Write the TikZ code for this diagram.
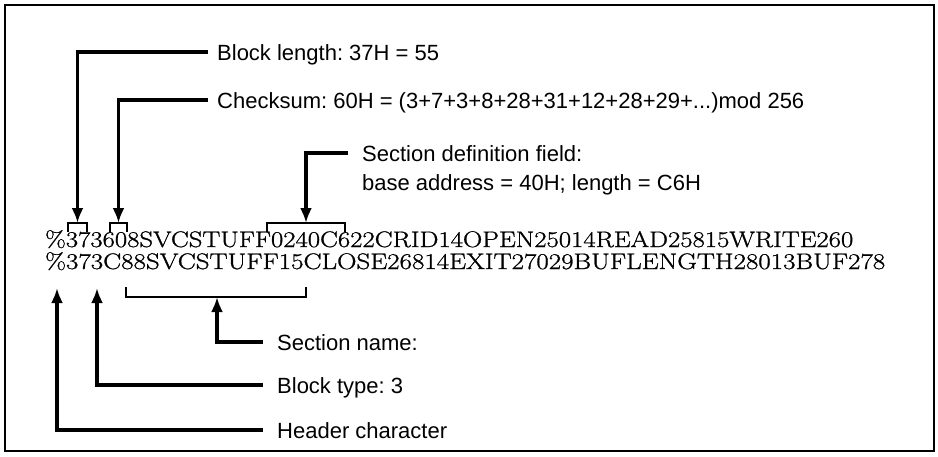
\documentclass[tikz,border=0pt]{standalone}
\usepackage{fontspec}
\usepackage{graphicx}
\usetikzlibrary{arrows.meta}
\newfontfamily\labfont{Liberation Sans}
\newfontfamily\codefont{Latin Modern Roman}[FakeBold=0.9]
\frenchspacing
\tikzset{
  conn/.style={line width=3.6pt, -{Latex[length=15pt,width=12pt]}},
  brk/.style={line width=2pt},
  lab/.style={anchor=base west, inner sep=0pt, font=\labfont\fontsize{22}{26}\selectfont},
  code/.style={anchor=base west, inner sep=0pt, font=\codefont\fontsize{22.5}{24}\selectfont},
}
\begin{document}
\begin{tikzpicture}[x=1pt,y=-1pt]
\useasboundingbox (0,0) rectangle (938,456);
\draw[line width=2.6pt] (5,5) rectangle (934,451);

% code lines
\node[code] (l1) at (45,247) {\resizebox{808pt}{\height}{\%373608SVCSTUFF0240C622CRID14OPEN25014READ25815WRITE260}};
\node[code] (l2) at (45,269) {\resizebox{840pt}{\height}{\%373C88SVCSTUFF15CLOSE26814EXIT27029BUFLENGTH28013BUF278}};

% labels
\node[lab] (blk) at (217,60) {Block length: 37H = 55};
\node[lab] (chk) at (217,108) {Checksum: 60H = (3+7+3+8+28+31+12+28+29+...)mod 256};
\node[lab] (sd1) at (362,161) {Section definition field:};
\node[lab] (sd2) at (362,190) {base address = 40H; length = C6H};
\node[lab] (sn) at (277,350) {Section name:};
\node[lab] (bt) at (277,393) {Block type: 3};
\node[lab] (hc) at (277,438) {Header character};

% brackets above line 1
\coordinate (b1l) at (68,232); \coordinate (b1r) at (87,232);
\coordinate (b2l) at (110,232); \coordinate (b2r) at (127,232);
\coordinate (b3l) at (267,232); \coordinate (b3r) at (345,232);
\draw[brk] (b1l) -- ++(0,-9) -| (b1r);
\draw[brk] (b2l) -- ++(0,-9) -| (b2r);
\draw[brk] (b3l) -- ++(0,-9) -| (b3r);
\coordinate (b1t) at (77.5,223);
\coordinate (b2t) at (118.5,223);
\coordinate (b3t) at (306,223);

% bracket below line 2
\coordinate (b4l) at (126,287); \coordinate (b4r) at (306,287);
\draw[brk] (b4l) -- ++(0,10) -| (b4r);
\coordinate (b4b) at (217,297);

% line ends near labels
\coordinate (e1) at (208,52);
\coordinate (e2) at (208,100);
\coordinate (e3) at (348,153);
\coordinate (e4) at (263,342);
\coordinate (e5) at (263,385);
\coordinate (e6) at (263,430);

% arrow tips below line 2
\coordinate (t5) at (97,288);
\coordinate (t6) at (57,288);

\draw[conn] (e1) -| (b1t);
\draw[conn] (e2) -| (b2t);
\draw[conn] (e3) -| (b3t);
\draw[conn] (e4) -| (b4b);
\draw[conn] (e5) -| (t5);
\draw[conn] (e6) -| (t6);
\end{tikzpicture}
\end{document}
